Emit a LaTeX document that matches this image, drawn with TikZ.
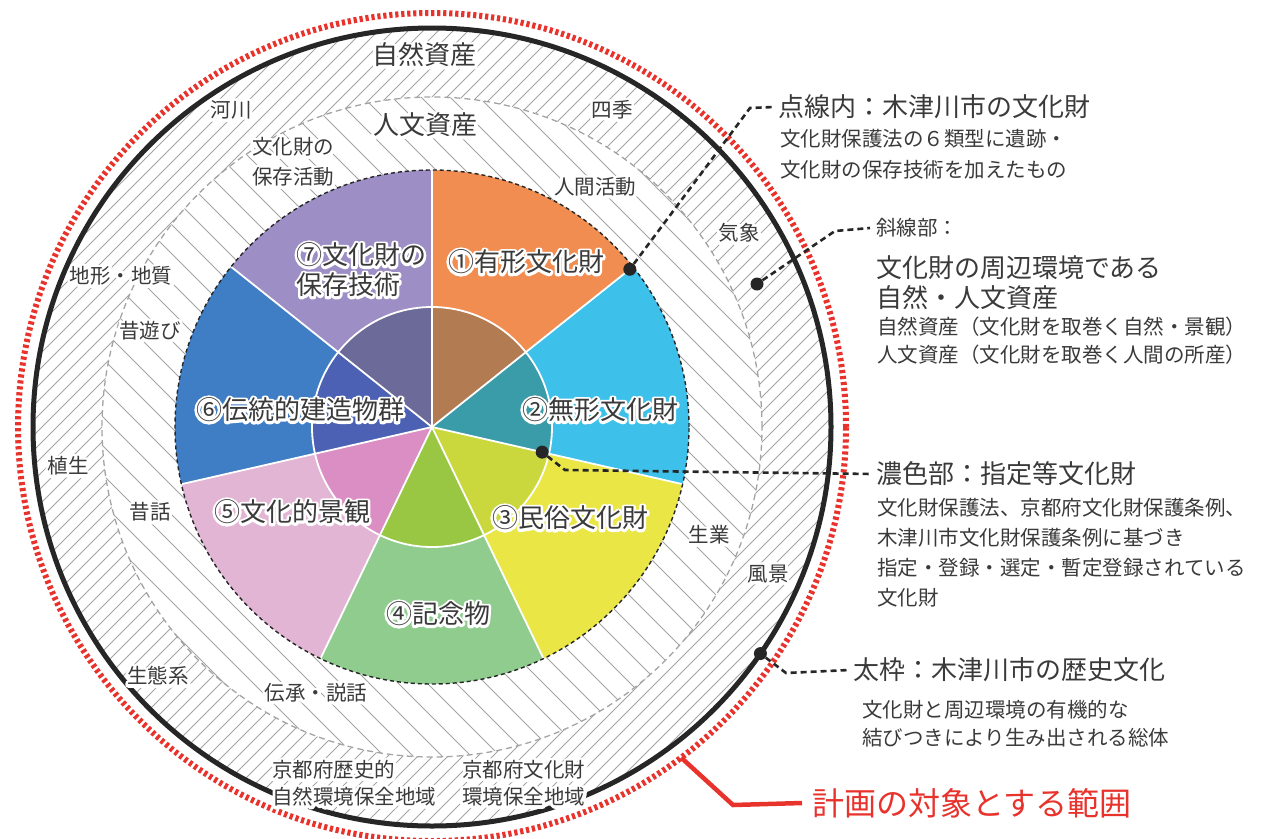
\documentclass[tikz,border=0pt]{standalone}
\usepackage{fontspec}
\setmainfont{Noto Sans CJK JP}
\usetikzlibrary{calc}
\definecolor{txt}{HTML}{3A3A3A}
\definecolor{hatchc}{HTML}{A3A3A3}
\definecolor{redc}{HTML}{E8322C}
\definecolor{ringc}{HTML}{262626}
\definecolor{c1}{HTML}{F28D52}\definecolor{d1}{HTML}{B27B52}
\definecolor{c2}{HTML}{3DC1EB}\definecolor{d2}{HTML}{3A9CA9}
\definecolor{c3}{HTML}{EAE646}\definecolor{d3}{HTML}{CBD83D}
\definecolor{c4}{HTML}{8FCC8E}\definecolor{d4}{HTML}{9AC743}
\definecolor{c5}{HTML}{E2B5D5}\definecolor{d5}{HTML}{DB8EC3}
\definecolor{c6}{HTML}{3F7EC5}\definecolor{d6}{HTML}{4C61B4}
\definecolor{c7}{HTML}{9D8EC6}\definecolor{d7}{HTML}{6B6A99}
% white outline behind a text (stroked copy), then the text itself
\newcommand\halo[2][5]{\leavevmode\rlap{\special{pdf:literal direct 1 Tr #1 w 1 j}\color{white}#2\special{pdf:literal direct 0 Tr 1 w}}#2}
\tikzset{
  lblS/.style={font=\fontsize{20.5}{27}\selectfont, text=txt, inner sep=0pt},
  lblL/.style={font=\fontsize{26}{30}\selectfont, text=txt, inner sep=0pt},
  pielab/.style={font=\fontsize{26}{30}\selectfont, text=txt, inner sep=0pt},
  sideS/.style={font=\fontsize{20.5}{25}\selectfont, text=txt, inner sep=0pt, anchor=west},
  sideL/.style={font=\fontsize{26}{30}\selectfont, text=txt, inner sep=0pt, anchor=west},
  hatch/.style={draw=hatchc, line width=1pt},
  leader/.style={draw=ringc, line width=2.6pt, dash pattern=on 6pt off 4pt},
  dotmark/.style={circle, fill=ringc, inner sep=0pt, minimum size=13pt},
}
\begin{document}
\begin{tikzpicture}[x=1pt,y=1pt]
\useasboundingbox (0,0) rectangle (1263,-838);
\coordinate (C) at (432,-427);
% outer ring hatching (/)
\begin{scope}[even odd rule]
  \clip (C) circle[radius=399] (C) circle[radius=330];
  \foreach \i in {-38,...,38}
    \draw[hatch] ($(C)+(\i*15-600,-600)$) -- ++(1200,1200);
\end{scope}
% inner ring hatching (\)
\begin{scope}[even odd rule]
  \clip (C) circle[radius=330] (C) circle[radius=257];
  \foreach \i in {-17,...,17}
    \draw[hatch] ($(C)+(\i*29-600,600)$) -- ++(1200,-1200);
\end{scope}
\draw[hatchc, line width=1.3pt, dash pattern=on 6pt off 4pt] (C) circle[radius=330];
% pie
\foreach \k/\c/\d in {0/c1/d1,1/c2/d2,2/c3/d3,3/c4/d4,4/c5/d5,5/c6/d6,6/c7/d7}{
  \pgfmathsetmacro\aa{90-\k*360/7}
  \pgfmathsetmacro\ab{90-(\k+1)*360/7}
  \fill[\c] (C) -- ($(C)+(\aa:257)$) arc[start angle=\aa,end angle=\ab,radius=257] -- cycle;
  \fill[\d] (C) -- ($(C)+(\aa:120)$) arc[start angle=\aa,end angle=\ab,radius=120] -- cycle;
}
\draw[white, line width=1.8pt] (C) circle[radius=120];
\foreach \k in {0,...,6}
  \draw[white, line width=1.8pt] (C) -- ($(C)+({90-\k*360/7}:257)$);
\draw[ringc, line width=1.4pt, dash pattern=on 4pt off 3pt] (C) circle[radius=257];
% outer circles
\draw[ringc, line width=5pt] (C) circle[radius=399];
\draw[redc, line width=6pt, dash pattern=on 3.2pt off 2.8pt] (C) circle[radius=414];
% pie labels
\node[pielab] (p1) at (526,-262) {\halo{①有形文化財}};
\node[pielab] (p2) at (600,-410) {\halo{②無形文化財}};
\node[pielab] (p3) at (570,-518) {\halo{③民俗文化財}};
\node[pielab] (p4) at (438,-614) {\halo{④記念物}};
\node[pielab] (p5) at (292,-512) {\halo{⑤文化的景観}};
\node[pielab] (p6) at (300,-410) {\halo{⑥伝統的建造物群}};
\node[pielab, anchor=west] (p7) at (296,-255) {\halo{⑦文化財の}};
\node[pielab, anchor=west] (p7b) at (296,-285) {\halo{保存技術}};
% ring labels
\node[lblL] (n1) at (424,-55) {\halo[6]{自然資産}};
\node[lblL] (n2) at (425,-125) {\halo[6]{人文資産}};
\node[lblS] (a1) at (231,-110) {\halo[6]{河川}};
\node[lblS] (a2) at (612,-110) {\halo[6]{四季}};
\node[lblS] (a3) at (293,-147) {\halo[6]{文化財の}};
\node[lblS] (a3b) at (293,-177) {\halo[6]{保存活動}};
\node[lblS] (a4) at (595,-187) {\halo[6]{人間活動}};
\node[lblS] (a5) at (739,-233) {\halo[6]{気象}};
\node[lblS] (a6) at (121,-276) {\halo[6]{地形・地質}};
\node[lblS] (a7) at (150,-331) {\halo[6]{昔遊び}};
\node[lblS] (a8) at (68,-466) {\halo[6]{植生}};
\node[lblS] (a9) at (150,-512) {\halo[6]{昔話}};
\node[lblS] (a10) at (709,-535) {\halo[6]{生業}};
\node[lblS] (a11) at (768,-574) {\halo[6]{風景}};
\node[lblS] (a12) at (158,-676) {\halo[6]{生態系}};
\node[lblS] (a13) at (316,-693) {\halo[6]{伝承・説話}};
\node[lblS, anchor=west] (a14) at (272,-770) {\halo[6]{京都府歴史的}};
\node[lblS, anchor=west] (a14b) at (272,-797) {\halo[6]{自然環境保全地域}};
\node[lblS, anchor=west] (a15) at (462,-770) {\halo[6]{京都府文化財}};
\node[lblS, anchor=west] (a15b) at (462,-797) {\halo[6]{環境保全地域}};
% side texts
\node[sideL] (t1) at (778,-107) {点線内：木津川市の文化財};
\node[sideS] (t1b) at (780,-139) {文化財保護法の６類型に遺跡・};
\node[sideS] (t1c) at (780,-170) {文化財の保存技術を加えたもの};
\node[sideS] (t2) at (876,-228) {斜線部：};
\node[sideL] (t2b) at (876,-268) {文化財の周辺環境である};
\node[sideL] (t2c) at (876,-298) {自然・人文資産};
\node[sideS] (t2d) at (877,-327) {自然資産（文化財を取巻く自然・景観）};
\node[sideS] (t2e) at (877,-355) {人文資産（文化財を取巻く人間の所産）};
\node[sideL] (t3) at (876,-474) {濃色部：指定等文化財};
\node[sideS] (t3b) at (877,-508) {文化財保護法、京都府文化財保護条例、};
\node[sideS] (t3c) at (877,-538) {木津川市文化財保護条例に基づき};
\node[sideS] (t3d) at (877,-568) {指定・登録・選定・暫定登録されている};
\node[sideS] (t3e) at (877,-598) {文化財};
\node[sideL] (t4) at (853,-670) {太枠：木津川市の歴史文化};
\node[sideS] (t4b) at (862,-710) {文化財と周辺環境の有機的な};
\node[sideS] (t4c) at (862,-738) {結びつきにより生み出される総体};
\node[font=\fontsize{32}{36}\selectfont, text=redc, inner sep=0pt, anchor=west] (tr) at (812,-803) {計画の対象とする範囲};
% leaders
\coordinate (b1) at (750,-108);
\coordinate (b2) at (835,-231);
\coordinate (b3) at (565,-470);
\coordinate (b4) at (786,-673);
\coordinate (r0) at ($(C)+(-53:414)$);
\coordinate (rb) at (733,-805);
\node[dotmark] (m1) at ($(C)+(38.57:253)$) {};
\node[dotmark] (m2) at (757,-284) {};
\node[dotmark] (m3) at ($(C)+(-12.857:113)$) {};
\node[dotmark] (m4) at ($(C)+(-34.6:399)$) {};
\draw[leader] (m1) -- (b1) -- ([xshift=-4pt]t1.west);
\draw[leader] (m2) -- (b2) -- ([xshift=-6pt]t2.west);
\draw[leader] (m3) -- (b3) -- ([xshift=-4pt]t3.west);
\draw[leader] (m4) -- (b4) -- ([xshift=-4pt]t4.west);
\draw[redc, line width=4.5pt] (r0) -- (rb) -- ([xshift=-10pt]tr.west);
\end{tikzpicture}
\end{document}
